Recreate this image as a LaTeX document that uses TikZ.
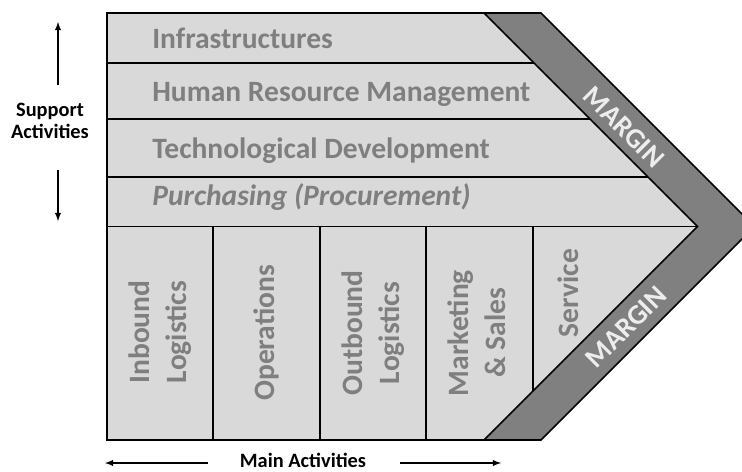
\documentclass[tikz,border=0pt]{standalone}
\usepackage{fontspec}
\setmainfont{Carlito}
\usepackage{tikz}
\definecolor{boxfill}{HTML}{D9D9D9}
\definecolor{marginfill}{HTML}{808080}
\definecolor{labelgray}{HTML}{7F7F7F}
\definecolor{marginlabel}{HTML}{EDEDED}

\begin{document}
\begin{tikzpicture}[scale=0.2]
\tikzstyle{every node}+=[inner sep=0pt]
\tikzstyle{rowtext}=[anchor=base west, text=labelgray, font=\fontsize{16.8}{21}\selectfont\bfseries]
\tikzstyle{coltext}=[rotate=90, align=center, text=labelgray, font=\fontsize{16.8}{21}\selectfont\bfseries]
\tikzstyle{margintext}=[text=marginlabel, font=\fontsize{16}{20}\selectfont\bfseries]
\tikzstyle{sidetext}=[align=center, font=\fontsize{11.6}{12.5}\selectfont\bfseries]
\useasboundingbox (0,0) rectangle (74.2,-47.1);
\clip (0,0) rectangle (74.2,-47.1);
\fill [boxfill] (10.7,-1.3) -- (48.4,-1.3) -- (69.75,-22.65) -- (48.4,-44) -- (10.7,-44) -- cycle;
\fill [marginfill] (48.4,-1.3) -- (54.1,-1.3) -- (75.45,-22.65) -- (54.1,-44) -- (48.4,-44) -- (69.75,-22.65) -- cycle;
\draw [black, line width=0.9pt] (10.7,-1.3) -- (54.1,-1.3) -- (75.45,-22.65) -- (54.1,-44) -- (10.7,-44) -- cycle;
\draw [black, line width=0.9pt] (48.4,-1.3) -- (69.75,-22.65) -- (48.4,-44);
\draw [black, line width=0.9pt] (10.7,-6.3) -- (53.4,-6.3);
\draw [black, line width=0.9pt] (10.7,-11.9) -- (59.0,-11.9);
\draw [black, line width=0.9pt] (10.7,-17.7) -- (64.8,-17.7);
\draw [black, line width=0.9pt] (10.7,-22.65) -- (69.75,-22.65);
\draw [black, line width=0.9pt] (21.3,-22.65) -- (21.3,-44);
\draw [black, line width=0.9pt] (32.0,-22.65) -- (32.0,-44);
\draw [black, line width=0.9pt] (42.6,-22.65) -- (42.6,-44);
\draw [black, line width=0.9pt] (53.3,-22.65) -- (53.3,-39.1);
\draw (15.2,-4.8) node [rowtext] (infra) {Infrastructures};
\draw (15.2,-10.1) node [rowtext] (hrm) {Human Resource Management};
\draw (15.2,-15.8) node [rowtext] (tech) {Technological Development};
\draw (15.2,-20.5) node [rowtext] (purch) {\itshape Purchasing (Procurement)};
\draw (16.0,-33.2) node [coltext] (inbound) {Inbound\\Logistics};
\draw (26.6,-33.3) node [coltext] (ops) {Operations};
\draw (37.3,-33.3) node [coltext] (outbound) {Outbound\\Logistics};
\draw (47.7,-33.3) node [coltext] (mkt) {Marketing\\\& Sales};
\draw (56.8,-29.3) node [coltext] (service) {Service};
\draw (62.4,-12.7) node [margintext, rotate=-45] (margintop) {MARGIN};
\draw (62.6,-32.7) node [margintext, rotate=45] (marginbot) {MARGIN};
\draw (5.0,-12.1) node [sidetext] (support) {Support\\Activities};
\coordinate (suphi) at (5.8,-8.5);
\coordinate (suptop) at (5.8,-2.2);
\coordinate (suplo) at (5.8,-17.0);
\coordinate (supbot) at (5.8,-22.1);
\draw [black, line width=0.6pt, -latex] (suphi) -- (suptop);
\draw [black, line width=0.6pt, -latex] (suplo) -- (supbot);
\draw (30.3,-46.0) node [sidetext] (mainact) {Main Activities};
\coordinate (mainl) at (20.8,-46.3);
\coordinate (mainlend) at (10.5,-46.3);
\coordinate (mainr) at (40.0,-46.3);
\coordinate (mainrend) at (50.1,-46.3);
\draw [black, line width=0.6pt, -latex] (mainl) -- (mainlend);
\draw [black, line width=0.6pt, -latex] (mainr) -- (mainrend);
\end{tikzpicture}
\end{document}
